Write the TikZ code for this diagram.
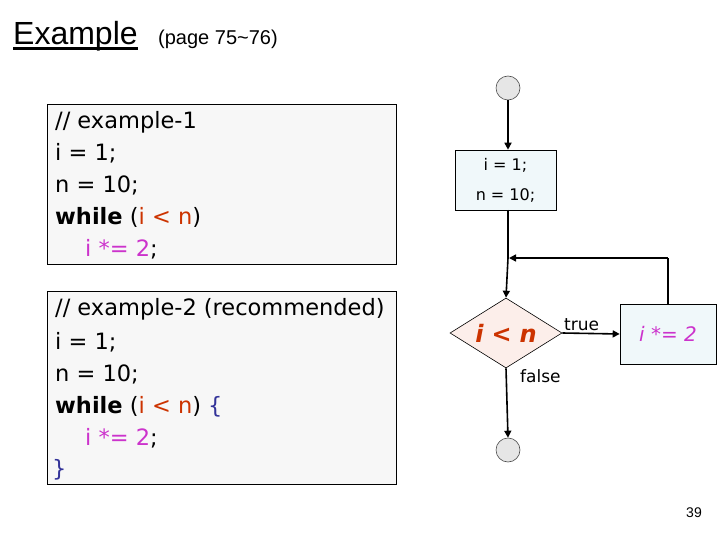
\documentclass[tikz,border=0pt]{standalone}
\usepackage{fontspec}
\setmainfont{DejaVu Sans}
\newfontfamily\titlefont{Liberation Sans}
\usetikzlibrary{shapes.geometric,arrows.meta}
\definecolor{codebg}{HTML}{F7F7F7}
\definecolor{boxbg}{HTML}{F0F8FA}
\definecolor{diabg}{HTML}{FCEEEA}
\definecolor{circbg}{HTML}{E6E6E6}
\definecolor{condred}{HTML}{CC3300}
\definecolor{asgmag}{HTML}{CC33CC}
\definecolor{bracebl}{HTML}{333399}
\tikzset{
  codebox/.style={draw=black, fill=codebg, line width=0.8pt, inner sep=0pt},
  codeline/.style={anchor=base west, inner sep=0pt, font=\fontsize{22.5}{26}\selectfont},
  procbox/.style={draw=black, fill=boxbg, line width=0.6pt, inner sep=0pt},
  termcirc/.style={circle, draw=black!70, fill=circbg, line width=0.6pt, minimum size=24pt, inner sep=0pt},
  decis/.style={diamond, draw=black, fill=diabg, line width=0.6pt, minimum width=112pt, minimum height=70pt, inner sep=0pt, aspect=1.6},
  flow/.style={line width=1.6pt, -{Triangle[length=7pt,width=7pt]}},
  flowline/.style={line width=1.6pt},
  lbl/.style={inner sep=0pt, font=\fontsize{17}{19}\selectfont}
}
\begin{document}
\begin{tikzpicture}[x=1pt,y=-1pt]
\useasboundingbox (0,0) rectangle (720,540);
% title
\node[anchor=base west, inner sep=0pt, font=\titlefont\fontsize{32}{34}\selectfont] (title) at (13,45) {Example};
\draw[line width=2.2pt] ([yshift=-3.5pt]title.base west) -- ([yshift=-3.5pt]title.base east);
\node[anchor=base west, inner sep=0pt, font=\titlefont\fontsize{20}{22}\selectfont] (page) at (158,45) {(page 75\textasciitilde 76)};
% code box 1
\node[codebox, minimum width=349pt, minimum height=160pt, anchor=north west] (cb1) at (47,104) {};
\node[codeline] (a1) at (55,129) {// example-1};
\node[codeline] (a2) at (55,161) {i = 1;};
\node[codeline] (a3) at (55,193) {n = 10;};
\node[codeline] (a4) at (55,225) {\textbf{while} (\textcolor{condred}{i < n})};
\node[codeline] (a5) at (85,256) {\textcolor{asgmag}{i *= 2};};
% code box 2
\node[codebox, minimum width=349pt, minimum height=193pt, anchor=north west] (cb2) at (47,291) {};
\node[codeline] (b1) at (55,315) {// example-2 (recommended)};
\node[codeline] (b2) at (55,349) {i = 1;};
\node[codeline] (b3) at (55,381) {n = 10;};
\node[codeline] (b4) at (55,413) {\textbf{while} (\textcolor{condred}{i < n}) \textcolor{bracebl}{\{}};
\node[codeline] (b5) at (85,445) {\textcolor{asgmag}{i *= 2};};
\node[codeline] (b6) at (52,476) {\textcolor{bracebl}{\}}};
% flowchart
\node[termcirc] (start) at (508,88) {};
\node[procbox, minimum width=101pt, minimum height=60pt, align=center, font=\fontsize{16}{30}\selectfont] (init) at (505.5,180) {i = 1;\\n = 10;};
\node[decis] (cond) at (506,333) {\textcolor{condred}{\fontsize{24}{26}\selectfont\bfseries\itshape i\,\,<\,\,n}};
\node[procbox, minimum width=96pt, minimum height=60pt, font=\fontsize{20}{22}\selectfont\itshape] (body) at (668,334) {\textcolor{asgmag}{i *= 2}};
\node[termcirc] (stop) at (508,450) {};
\coordinate (loopR) at (body.north |- 0,258);
\coordinate (loopL) at (508,258);
\coordinate (initB) at (508,210);
\draw[flow] (start) -- (start |- init.north);
\draw[flowline] (initB) -- (loopL);
\draw[flow] (loopL) -- (cond.north);
\draw[flowline] (body.north) -- (loopR);
\draw[flow] (loopR) -- ([xshift=1pt]loopL);
\draw[flow] (cond.east) -- (body.west);
\node[lbl, anchor=base west] (tlbl) at (564,330) {true};
\node[lbl, anchor=base west] (flbl) at (520,382) {false};
\draw[flow] (cond.south) -- (stop.north);
\node[anchor=base, inner sep=0pt, font=\titlefont\fontsize{14}{16}\selectfont] (pnum) at (694,517) {39};
\end{tikzpicture}
\end{document}
